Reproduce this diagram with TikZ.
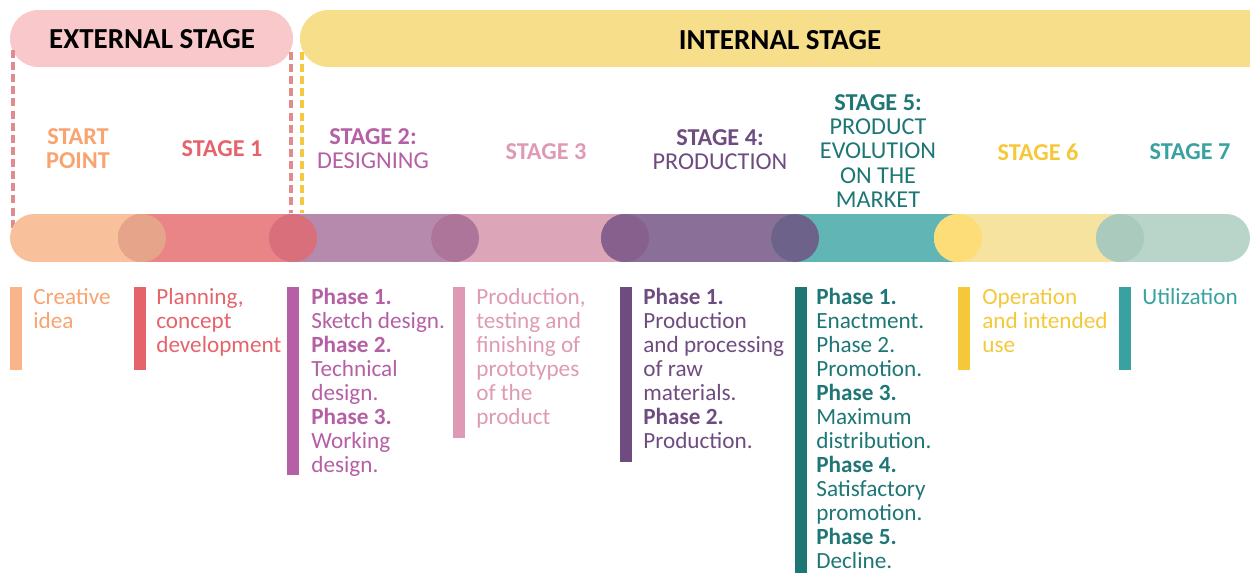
\documentclass[tikz,border=0pt]{standalone}
\usepackage{fontspec}
\setmainfont{Carlito}
\usetikzlibrary{positioning}

\definecolor{extpink}{HTML}{F9C8CA}
\definecolor{intyellow}{HTML}{F7DE8A}
\definecolor{guidepink}{HTML}{E08C8E}
\definecolor{guideyellow}{HTML}{F5C842}
% bar segments
\definecolor{segA}{HTML}{F9C09C}
\definecolor{segB}{HTML}{E98487}
\definecolor{segC}{HTML}{B58AAC}
\definecolor{segD}{HTML}{DDA6B8}
\definecolor{segE}{HTML}{8A7099}
\definecolor{segF}{HTML}{61B5B5}
\definecolor{segG}{HTML}{F7E3A0}
\definecolor{segH}{HTML}{B9D5C9}
% overlaps
\definecolor{ovA}{HTML}{E6A58A}
\definecolor{ovB}{HTML}{D96F7A}
\definecolor{ovC}{HTML}{AD7599}
\definecolor{ovD}{HTML}{87608D}
\definecolor{ovE}{HTML}{6D628A}
\definecolor{ovF}{HTML}{FDDD77}
\definecolor{ovG}{HTML}{A9CABD}
% text and side bars
\definecolor{cA}{HTML}{F9A36F}
\definecolor{cB}{HTML}{E5646B}
\definecolor{cC}{HTML}{B55FA5}
\definecolor{cD}{HTML}{DE9AB4}
\definecolor{cE}{HTML}{6F4C80}
\definecolor{cF}{HTML}{1F7775}
\definecolor{cG}{HTML}{F5C83A}
\definecolor{cH}{HTML}{3AA1A1}
\definecolor{barA}{HTML}{F9B48A}

\begin{document}
\begin{tikzpicture}[x=0.02cm,y=-0.02cm,
  stage/.style={align=center,inner sep=0pt,font=\fontsize{13.8}{13.8}\selectfont},
  info/.style={anchor=north west,align=left,inner sep=0pt,font=\fontsize{13.2}{13.66}\selectfont},
  head/.style={inner sep=0pt,font=\fontsize{16.5}{16}\selectfont\bfseries},
  seg/.style={line width=0.96cm,line cap=round},
  guide/.style={line width=2.2pt,dash pattern=on 4.5pt off 2.4pt}]
\useasboundingbox (0,0) rectangle (1250,572);
\clip (0,0) rectangle (1250,572);

% stage headers
\fill[extpink,rounded corners=0.57cm] (10,10) rectangle (293,67);
\fill[intyellow,rounded corners=0.57cm] (300,10) rectangle (1320,67);
\node[head] (ext) at (152,39) {EXTERNAL STAGE};
\node[head] (int) at (780,40) {INTERNAL STAGE};

\draw[guide,guidepink] (13,50) -- (13,237);
\draw[guide,guidepink] (291,52) -- (291,213);
\draw[guide,guideyellow] (302,52) -- (302,213);

% the time line
\foreach \a/\b/\col in {34/142/segA,142/293/segB,293/455/segC,455/625/segD,
  625/795/segE,795/958/segF,958/1120/segG,1120/1226/segH}
  \draw[seg,\col] (\a,238) -- (\b,238);
\foreach \c/\col in {142/ovA,293/ovB,455/ovC,625/ovD,795/ovE,958/ovF,1120/ovG}
  \fill[\col] (\c,238) circle (24);

% stage names
\node[stage,text=cA] (st0) at (78,149) {\bfseries START\\\bfseries POINT};
\node[stage,text=cB] (st1) at (222,149) {\bfseries STAGE 1};
\node[stage,text=cC] (st2) at (373,149) {\bfseries STAGE 2:\\DESIGNING};
\node[stage,text=cD] (st3) at (546,152) {\bfseries STAGE 3};
\node[stage,text=cE] (st4) at (720,150) {\bfseries STAGE 4:\\PRODUCTION};
\node[stage,text=cF] (st5) at (878,151) {\bfseries STAGE 5:\\PRODUCT\\EVOLUTION\\ON THE\\MARKET};
\node[stage,text=cG] (st6) at (1038,152) {\bfseries STAGE 6};
\node[stage,text=cH] (st7) at (1190,152) {\bfseries STAGE 7};

% side bars
\foreach \x/\y/\col in {10/370/barA,134/370/cB,287/475/cC,453/438/cD,
  620/462/cE,795/600/cF,958/370/cG,1119/370/cH}
  \fill[\col] (\x,287) rectangle (\x+12,\y);

% descriptions
\node[info,text=cA] (d0) at (33,288) {Creative\\idea};
\node[info,text=cB] (d1) at (156,288) {Planning,\\concept\\development};
\node[info,text=cC] (d2) at (311,288) {\textbf{Phase 1.}\\Sketch design.\\\textbf{Phase 2.}\\Technical\\design.\\\textbf{Phase 3.}\\Working\\design.};
\node[info,text=cD] (d3) at (476,288) {Production,\\testing and\\finishing of\\prototypes\\of the\\product};
\node[info,text=cE] (d4) at (643,288) {\textbf{Phase 1.}\\Production\\and processing\\of raw\\materials.\\\textbf{Phase 2.}\\Production.};
\node[info,text=cF] (d5) at (816,288) {\textbf{Phase 1.}\\Enactment.\\Phase 2.\\Promotion.\\\textbf{Phase 3.}\\Maximum\\distribution.\\\textbf{Phase 4.}\\Satisfactory\\promotion.\\\textbf{Phase 5.}\\Decline.};
\node[info,text=cG] (d6) at (982,288) {Operation\\and intended\\use};
\node[info,text=cH] (d7) at (1142,288) {Utilization};
\end{tikzpicture}
\end{document}
